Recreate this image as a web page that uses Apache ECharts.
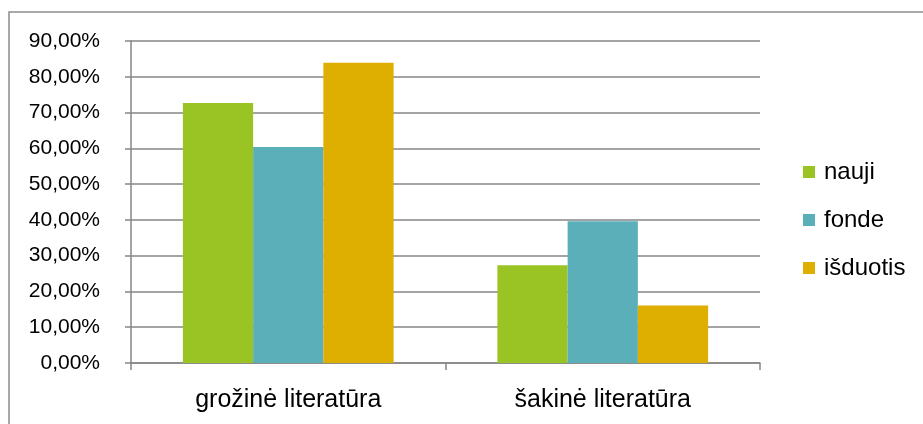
<!DOCTYPE html>
<html>
<head>
<meta charset="utf-8">
<script src="https://cdn.jsdelivr.net/npm/echarts@6/dist/echarts.min.js"></script>
<style>
html,body{margin:0;padding:0;background:#fff;}
#c{width:923px;height:424px;}
</style>
</head>
<body>
<div id="c"></div>
<script>
var categories = ['grožinė literatūra', 'šakinė literatūra'];
var seriesNames = ['nauji', 'fonde', 'išduotis'];
var nauji = [72.7, 27.3];
var fonde = [60.4, 39.6];
var isduotis = [83.9, 16.1];
var colors = ['#99C424', '#5AAFB9', '#DEAE00'];

var chart = echarts.init(document.getElementById('c'));
var font = 'Liberation Sans';
chart.setOption({
  animation: false,
  color: colors,
  graphic: [{
    type: 'rect',
    shape: {x: 9, y: 12, width: 1000, height: 500},
    style: {fill: 'none', stroke: '#8c8c8c', lineWidth: 1.5},
    silent: true
  }],
  grid: {left: 131, right: 163, top: 41, bottom: 61, containLabel: false},
  legend: {
    orient: 'vertical',
    left: 803,
    top: 160,
    padding: 0,
    itemWidth: 12,
    itemHeight: 12,
    itemGap: 24,
    icon: 'rect',
    textStyle: {fontFamily: font, fontSize: 24, color: '#000', padding: [0, 0, 0, 4]},
    data: seriesNames
  },
  xAxis: {
    type: 'category',
    data: categories,
    axisLine: {lineStyle: {color: '#868686', width: 1.5}},
    axisTick: {show: true, length: 7, lineStyle: {color: '#868686', width: 1.5}},
    axisLabel: {fontFamily: font, fontSize: 25, color: '#000', margin: 25}
  },
  yAxis: {
    type: 'value',
    min: 0,
    max: 90,
    interval: 10,
    axisLine: {show: true, lineStyle: {color: '#868686', width: 1.5}},
    axisTick: {show: true, length: 6, lineStyle: {color: '#868686', width: 1.5}},
    splitLine: {lineStyle: {color: '#868686', width: 1.5}},
    axisLabel: {
      fontFamily: font, fontSize: 21, color: '#000', margin: 31,
      formatter: function (v) { return v.toFixed(2).replace('.', ',') + '%'; }
    }
  },
  series: [
    {name: seriesNames[0], type: 'bar', data: nauji, barGap: '0%', barCategoryGap: '33%'},
    {name: seriesNames[1], type: 'bar', data: fonde, barGap: '0%', barCategoryGap: '33%'},
    {name: seriesNames[2], type: 'bar', data: isduotis, barGap: '0%', barCategoryGap: '33%'}
  ]
});
</script>
</body>
</html>
